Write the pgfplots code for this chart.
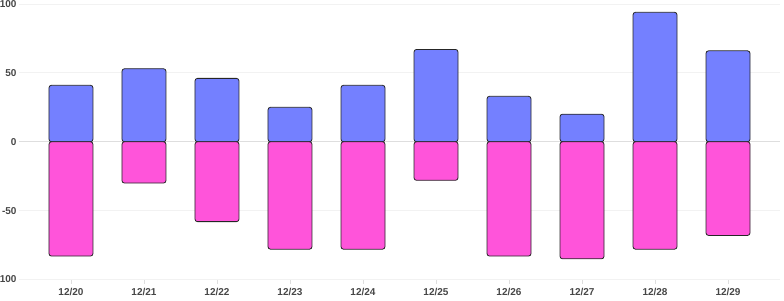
\documentclass[border=0pt]{standalone}
\usepackage{pgfplots}
\pgfplotsset{compat=1.18}
\usepackage{fontspec}
\setmainfont{Liberation Sans}
\usetikzlibrary{calc}
\definecolor{posblue}{RGB}{116,128,255}
\definecolor{negpink}{RGB}{255,84,218}
\definecolor{lbl}{RGB}{70,70,70}
\definecolor{gridc}{RGB}{242,242,242}
\definecolor{zeroc}{RGB}{222,222,222}
\begin{document}
\begin{tikzpicture}
\begin{axis}[
  scale only axis,
  width=761pt, height=275.5pt,
  xmin=-0.712, xmax=9.712,
  ymin=-100, ymax=100,
  ytick={-100,-50,0,50,100},
  xtick={0,...,9},
  xticklabels={12/20,12/21,12/22,12/23,12/24,12/25,12/26,12/27,12/28,12/29},
  axis line style={draw=none},
  ymajorgrids=true,
  grid style={gridc, line width=0.8pt},
  extra y ticks={0},
  extra y tick labels={},
  extra y tick style={grid style={zeroc, line width=1.4pt}, ytick style={draw=none}},
  major tick length=4pt,
  xtick style={draw=zeroc, line width=0.8pt},
  ytick style={draw=none},
  xtick pos=bottom,
  xtick align=outside,
  tick label style={font=\fontsize{10}{11}\selectfont\bfseries, text=lbl},
  /pgf/number format/assume math mode=true,
  yticklabel style={xshift=1pt},
  xticklabel style={yshift=-1pt},
  ybar, bar width=44pt, bar shift=0pt,
  clip=false,
]
\addplot[fill=posblue, draw=black!85, line width=0.8pt, rounded corners=2.5pt] coordinates {
 (0,41) (1,53) (2,46) (3,25) (4,41) (5,67) (6,33) (7,20) (8,94) (9,66)};
\addplot[fill=negpink, draw=black!85, line width=0.8pt, rounded corners=2.5pt] coordinates {
 (0,-83) (1,-30) (2,-58) (3,-78) (4,-78) (5,-28) (6,-83) (7,-85) (8,-78) (9,-68)};
\end{axis}
\pgfresetboundingbox
\path[use as bounding box] ($(current axis.south west)+(-19pt,-20.5pt)$) rectangle ($(current axis.north east)+(4pt,4pt)$);
\end{tikzpicture}
\end{document}
